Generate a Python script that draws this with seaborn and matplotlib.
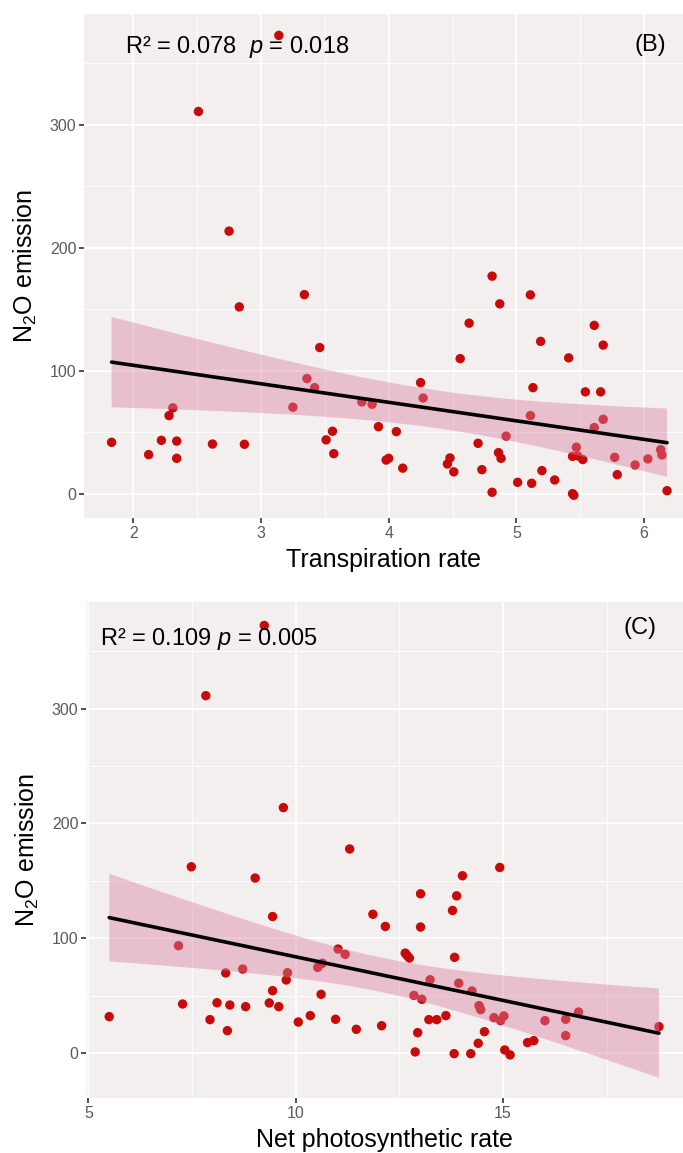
import matplotlib
matplotlib.use("Agg")
import matplotlib.pyplot as plt
import seaborn as sns
import numpy as np
from matplotlib.ticker import MultipleLocator

# ---------------- data ----------------
transp_x = [1.83, 2.12, 2.22, 2.28, 2.31, 2.34, 2.34, 2.51, 2.62, 2.75, 2.83, 2.87, 3.14, 3.25, 3.34,
            3.36, 3.42, 3.46, 3.51, 3.56, 3.57, 3.79, 3.87, 3.92, 3.98, 4.00, 4.06, 4.11, 4.25, 4.27,
            4.46, 4.48, 4.51, 4.56, 4.63, 4.70, 4.73, 4.81, 4.81, 4.86, 4.87, 4.88, 4.92, 5.01, 5.11,
            5.11, 5.13, 5.12, 5.19, 5.20, 5.30, 5.41, 5.44, 5.44, 5.45, 5.47, 5.48, 5.52, 5.54, 5.61,
            5.61, 5.66, 5.68, 5.68, 5.77, 5.79, 5.93, 6.03, 6.13, 6.14, 6.18]
transp_y = [42, 32, 43.6, 63.7, 70, 29, 43, 310.8, 40.6, 213.6, 152, 40.4, 372.6, 70.5, 162,
            93.8, 86.4, 119, 44, 51, 32.8, 74.8, 72.9, 54.7, 27.6, 29, 50.7, 21, 90.5, 78,
            24.4, 29.3, 18, 110, 138.8, 41.2, 19.8, 1.4, 177, 33.6, 154.5, 29, 47, 9.5, 161.8,
            63.7, 86.4, 8.7, 124, 19, 11.4, 110.6, 30.6, 0.3, -1, 38, 31, 28, 83, 54,
            137, 83, 121, 60.7, 29.8, 15.7, 23.6, 28.5, 36, 31.7, 2.7]

photo_x = [5.5, 7.17, 7.27, 7.48, 7.83, 7.93, 8.1, 8.31, 8.35, 8.41, 8.72, 8.79, 9.02, 9.24, 9.36,
           9.44, 9.44, 9.59, 9.7, 9.77, 9.8, 10.06, 10.35, 10.53, 10.61, 10.64, 10.96, 11.02, 11.19,
           11.3, 11.46, 11.86, 12.07, 12.16, 12.64, 12.69, 12.74, 12.85, 12.88, 12.94, 13.01, 13.01,
           13.04, 13.21, 13.24, 13.4, 13.62, 13.78, 13.82, 13.83, 13.88, 13.93, 14.02, 14.22, 14.25,
           14.4, 14.42, 14.46, 14.55, 14.78, 14.92, 14.94, 15.02, 15.04, 15.17, 15.59, 15.74, 16.01,
           16.51, 16.51, 16.82, 18.76]
photo_y = [31.9, 93.6, 42.9, 162.3, 311.2, 29.3, 44, 69.9, 19.7, 42, 73.3, 40.6, 152.5, 372.3, 43.8,
           119, 54.5, 40.6, 213.8, 63.8, 70.1, 27.2, 32.8, 74.8, 51.3, 78.3, 29.6, 90.7, 86.1,
           177.8, 20.9, 121, 24, 110.4, 87.2, 84.9, 82.9, 50.4, 1.2, 18, 138.8, 109.9,
           47, 29.3, 64, 29.3, 32.8, 124.3, -0.3, 83.5, 137, 61, 154.5, -0.3, 54.2,
           8.7, 41.4, 38, 18.8, 31, 161.7, 28.4, 32.5, 2.9, -1.4, 9.3, 11, 28.4,
           29.6, 15.4, 35.9, 23.2]

x_labels = ["Transpiration rate", "Net photosynthetic rate"]
y_label = "N$_2$O emission"
stats = ["R\u00b2 = 0.078  $\\it{p}$ = 0.018", "R\u00b2 = 0.109 $\\it{p}$ = 0.005"]
panel_tags = ["(B)", "(C)"]

# ---------------- style ----------------
sns.set_theme(style="darkgrid")
plt.rcParams["font.family"] = ["Liberation Sans", "DejaVu Sans"]
plt.rcParams["mathtext.fontset"] = "custom"
plt.rcParams["mathtext.rm"] = "Liberation Sans"
plt.rcParams["mathtext.it"] = "Liberation Sans:italic"

BG = "#f4efef"
PT = "#c90a0a"
BAND = "#d9809f"

try:
    from scipy import stats as _st
    def tq(df):
        return _st.t.ppf(0.975, df)
except Exception:
    def tq(df):
        return 1.994

fig = plt.figure(figsize=(6.83, 11.53), dpi=100)
W, H = 683, 1153

def px_axes(l, t, r, b):
    return fig.add_axes([l / W, 1 - b / H, (r - l) / W, (b - t) / H])

axB = px_axes(84, 14, 683, 518)
axC = px_axes(86, 602, 683, 1098)

specs = [
    (axB, transp_x, transp_y, (1.614, 6.305), (-19.5, 390), 1, (0.068, 0.935), (0.972, 0.938)),
    (axC, photo_x, photo_y, (4.94, 19.34), (-38.9, 392.7), 5, (0.0235, 0.925), (0.956, 0.948)),
]

for i, (ax, xs, ys, xl, yl, xmaj, st_pos, tag_pos) in enumerate(specs):
    xa, ya = np.array(xs, float), np.array(ys, float)
    ax.set_facecolor(BG)
    sns.regplot(x=xa, y=ya, ax=ax, ci=None, color="black",
                scatter_kws=dict(s=46, color=PT, edgecolor="none", alpha=1, zorder=1),
                line_kws=dict(color="black", lw=2.6, zorder=3))
    # analytic 95% confidence band of the linear fit (as in geom_smooth)
    n = len(xa)
    b, a = np.polyfit(xa, ya, 1)
    resid = ya - (a + b * xa)
    s = np.sqrt(np.sum(resid ** 2) / (n - 2))
    sxx = np.sum((xa - xa.mean()) ** 2)
    grid = np.linspace(xa.min(), xa.max(), 100)
    fit = a + b * grid
    se = s * np.sqrt(1 / n + (grid - xa.mean()) ** 2 / sxx)
    t = tq(n - 2)
    ax.fill_between(grid, fit - t * se, fit + t * se, facecolor=BAND, alpha=0.42,
                    edgecolor="none", zorder=2)
    ax.set_xlim(*xl)
    ax.set_ylim(*yl)
    ax.xaxis.set_major_locator(MultipleLocator(xmaj))
    ax.xaxis.set_minor_locator(MultipleLocator(xmaj / 2))
    ax.yaxis.set_major_locator(MultipleLocator(100))
    ax.yaxis.set_minor_locator(MultipleLocator(50))
    ax.grid(which="major", color="white", lw=1.3)
    ax.grid(which="minor", color="white", lw=0.6)
    ax.set_axisbelow(True)
    for sp in ax.spines.values():
        sp.set_visible(False)
    ax.tick_params(axis="both", which="major", length=3.5, width=1.2, color="#333333",
                   labelsize=11.5, labelcolor="#5a5a5a", pad=2, bottom=True, left=True)
    ax.tick_params(axis="both", which="minor", length=0)
    ax.set_xlabel(x_labels[i], fontsize=18, labelpad=5, color="black")
    ax.set_ylabel(y_label, fontsize=18, labelpad=8, color="black")
    ax.text(st_pos[0], st_pos[1], stats[i], transform=ax.transAxes, fontsize=17,
            ha="left", va="center", color="black")
    ax.text(tag_pos[0], tag_pos[1], panel_tags[i], transform=ax.transAxes, fontsize=17,
            ha="right", va="center", color="black")

fig.savefig("out.png", dpi=100, facecolor="white")
